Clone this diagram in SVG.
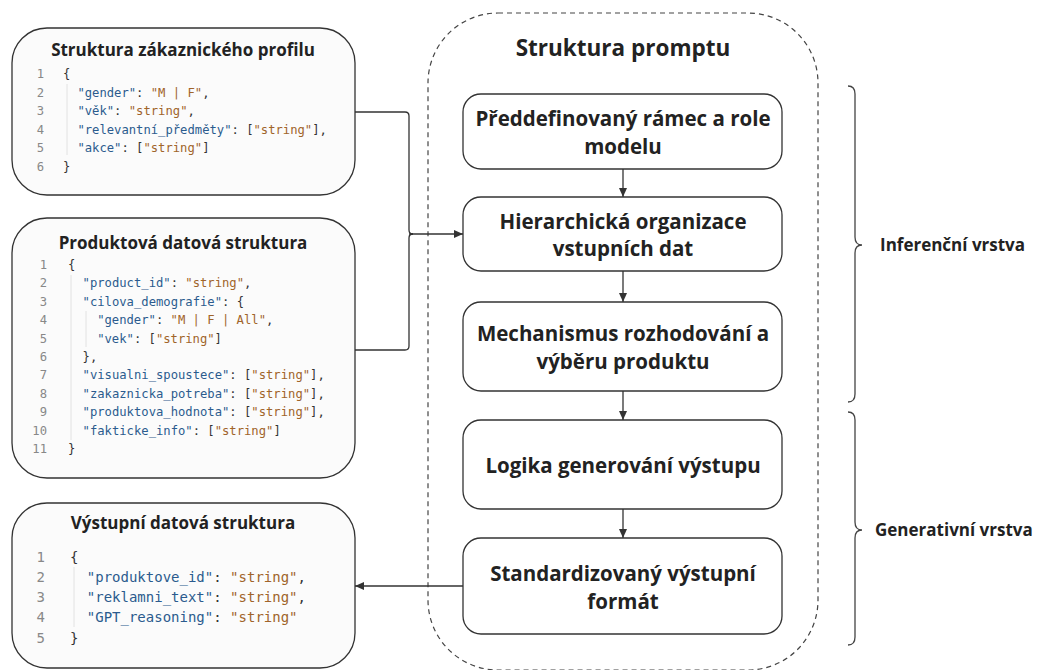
<svg xmlns="http://www.w3.org/2000/svg" width="1037" height="670" viewBox="0 0 1037 670">
<style>
.card{fill:#fbfbfb;stroke:#333;stroke-width:1.3}
.step{fill:#fff;stroke:#333;stroke-width:1.3}
.title{font-family:"Open Sans","Noto Sans",sans-serif;font-weight:700;fill:#222;text-anchor:middle}
.ct{font-size:17px}
.st{font-size:20.5px}
.code{font-family:"DejaVu Sans Mono","Liberation Mono",monospace;fill:#333}
.c12{font-size:12.2px}
.c14{font-size:14px}
.ln{fill:#888;text-anchor:end}
.k{fill:#2b5b8e}
.s{fill:#a0642a}
.guide{stroke:#e2e2e2;stroke-width:1}
.conn{fill:none;stroke:#333;stroke-width:1.3}
.brace{fill:none;stroke:#444;stroke-width:1.3}
.side{font-family:"Open Sans","Noto Sans",sans-serif;font-weight:700;font-size:17px;fill:#222}
</style>
<defs>
<marker id="arr" markerUnits="userSpaceOnUse" markerWidth="10" markerHeight="10" refX="9" refY="5" orient="auto">
<path d="M0,1 L9,5 L0,9 Z" fill="#333"/>
</marker>
</defs>
<rect width="1037" height="670" fill="#fff"/>

<g id="prompt-container">
<rect x="428" y="13" width="390" height="657" rx="70" ry="70" fill="none" stroke="#444" stroke-width="1.2" stroke-dasharray="5 4"/>
<text class="title" x="623" y="56" font-size="22.5">Struktura promptu</text>
</g>

<g id="customer-profile">
<rect class="card" x="12" y="28" width="343" height="167" rx="35"/>
<text class="title ct" x="183" y="56">Struktura zákaznického profilu</text>
<line class="guide" x1="67" y1="84" x2="67" y2="155"/>
<g class="code c12">
<text class="ln" x="44" y="78">1</text>
<text class="ln" x="44" y="96.5">2</text>
<text class="ln" x="44" y="115">3</text>
<text class="ln" x="44" y="133.5">4</text>
<text class="ln" x="44" y="152">5</text>
<text class="ln" x="44" y="170.5">6</text>
<text x="63" y="78">{</text>
<text x="77.4" y="96.5"><tspan class="k">"gender"</tspan>: <tspan class="s">"M | F"</tspan>,</text>
<text x="77.4" y="115"><tspan class="k">"věk"</tspan>: <tspan class="s">"string"</tspan>,</text>
<text x="77.4" y="133.5"><tspan class="k">"relevantní_předměty"</tspan>: [<tspan class="s">"string"</tspan>],</text>
<text x="77.4" y="152"><tspan class="k">"akce"</tspan>: [<tspan class="s">"string"</tspan>]</text>
<text x="63" y="170.5">}</text>
</g>
</g>

<g id="product-structure">
<rect class="card" x="12" y="218" width="343" height="260" rx="35"/>
<text class="title ct" x="183" y="249">Produktová datová struktura</text>
<line class="guide" x1="71" y1="275" x2="71" y2="440"/>
<line class="guide" x1="86" y1="311" x2="86" y2="347"/>
<g class="code c12">
<text class="ln" x="47" y="269">1</text>
<text class="ln" x="47" y="287.4">2</text>
<text class="ln" x="47" y="305.8">3</text>
<text class="ln" x="47" y="324.2">4</text>
<text class="ln" x="47" y="342.6">5</text>
<text class="ln" x="47" y="361">6</text>
<text class="ln" x="47" y="379.4">7</text>
<text class="ln" x="47" y="397.8">8</text>
<text class="ln" x="47" y="416.2">9</text>
<text class="ln" x="47" y="434.6">10</text>
<text class="ln" x="47" y="453">11</text>
<text x="68" y="269">{</text>
<text x="82.6" y="287.4"><tspan class="k">"product_id"</tspan>: <tspan class="s">"string"</tspan>,</text>
<text x="82.6" y="305.8"><tspan class="k">"cilova_demografie"</tspan>: {</text>
<text x="97.2" y="324.2"><tspan class="k">"gender"</tspan>: <tspan class="s">"M | F | All"</tspan>,</text>
<text x="97.2" y="342.6"><tspan class="k">"vek"</tspan>: [<tspan class="s">"string"</tspan>]</text>
<text x="82.6" y="361">},</text>
<text x="82.6" y="379.4"><tspan class="k">"visualni_spoustece"</tspan>: [<tspan class="s">"string"</tspan>],</text>
<text x="82.6" y="397.8"><tspan class="k">"zakaznicka_potreba"</tspan>: [<tspan class="s">"string"</tspan>],</text>
<text x="82.6" y="416.2"><tspan class="k">"produktova_hodnota"</tspan>: [<tspan class="s">"string"</tspan>],</text>
<text x="82.6" y="434.6"><tspan class="k">"fakticke_info"</tspan>: [<tspan class="s">"string"</tspan>]</text>
<text x="68" y="453">}</text>
</g>
</g>

<g id="output-structure">
<rect class="card" x="12" y="503" width="343" height="165" rx="35"/>
<text class="title ct" x="183" y="529">Výstupní datová struktura</text>
<line class="guide" x1="74" y1="567" x2="74" y2="627"/>
<g class="code c14">
<text class="ln" x="45" y="562">1</text>
<text class="ln" x="45" y="582">2</text>
<text class="ln" x="45" y="602">3</text>
<text class="ln" x="45" y="622">4</text>
<text class="ln" x="45" y="643">5</text>
<text x="70" y="562">{</text>
<text x="86.8" y="582"><tspan class="k">"produktove_id"</tspan>: <tspan class="s">"string"</tspan>,</text>
<text x="86.8" y="602"><tspan class="k">"reklamni_text"</tspan>: <tspan class="s">"string"</tspan>,</text>
<text x="86.8" y="622"><tspan class="k">"GPT_reasoning"</tspan>: <tspan class="s">"string"</tspan></text>
<text x="70" y="643">}</text>
</g>
</g>

<g id="step-framework">
<rect class="step" x="463" y="94" width="319" height="75" rx="18"/>
<text class="title st" x="623" y="125.5">Předdefinovaný rámec a role</text>
<text class="title st" x="623" y="154">modelu</text>
</g>
<g id="step-hierarchy">
<rect class="step" x="463" y="197" width="319" height="74" rx="18"/>
<text class="title st" x="623" y="228.5">Hierarchická organizace</text>
<text class="title st" x="623" y="255.5">vstupních dat</text>
</g>
<g id="step-decision">
<rect class="step" x="463" y="302" width="319" height="89" rx="18"/>
<text class="title st" x="623" y="340.5">Mechanismus rozhodování a</text>
<text class="title st" x="623" y="368.5">výběru produktu</text>
</g>
<g id="step-generation">
<rect class="step" x="463" y="420" width="319" height="89" rx="18"/>
<text class="title st" x="623" y="472.5">Logika generování výstupu</text>
</g>
<g id="step-format">
<rect class="step" x="463" y="538" width="319" height="96" rx="18"/>
<text class="title st" x="623" y="580.5">Standardizovaný výstupní</text>
<text class="title st" x="623" y="608.5">formát</text>
</g>

<g id="connectors">
<path class="conn" d="M355,112 H405 Q409,112 409,116 V230 Q409,234 413,234"/>
<path class="conn" d="M355,350 H405 Q409,350 409,346 V238 Q409,234 413,234"/>
<path class="conn" d="M409,234 H463" marker-end="url(#arr)"/>
<path class="conn" d="M623,169 V197" marker-end="url(#arr)"/>
<path class="conn" d="M623,271 V302" marker-end="url(#arr)"/>
<path class="conn" d="M623,391 V420" marker-end="url(#arr)"/>
<path class="conn" d="M623,509 V538" marker-end="url(#arr)"/>
<path class="conn" d="M463,586 H355" marker-end="url(#arr)"/>
</g>

<g id="layer-inference">
<path class="brace" d="M848,86 Q855,86 855,94 L855,237 Q855,245 862,245 Q855,245 855,253 L855,394 Q855,402 848,402"/>
<text class="side" x="880" y="251">Inferenční vrstva</text>
</g>
<g id="layer-generative">
<path class="brace" d="M848,412 Q855,412 855,420 L855,522 Q855,530 862,530 Q855,530 855,538 L855,637 Q855,645 848,645"/>
<text class="side" x="875" y="536">Generativní vrstva</text>
</g>
</svg>
